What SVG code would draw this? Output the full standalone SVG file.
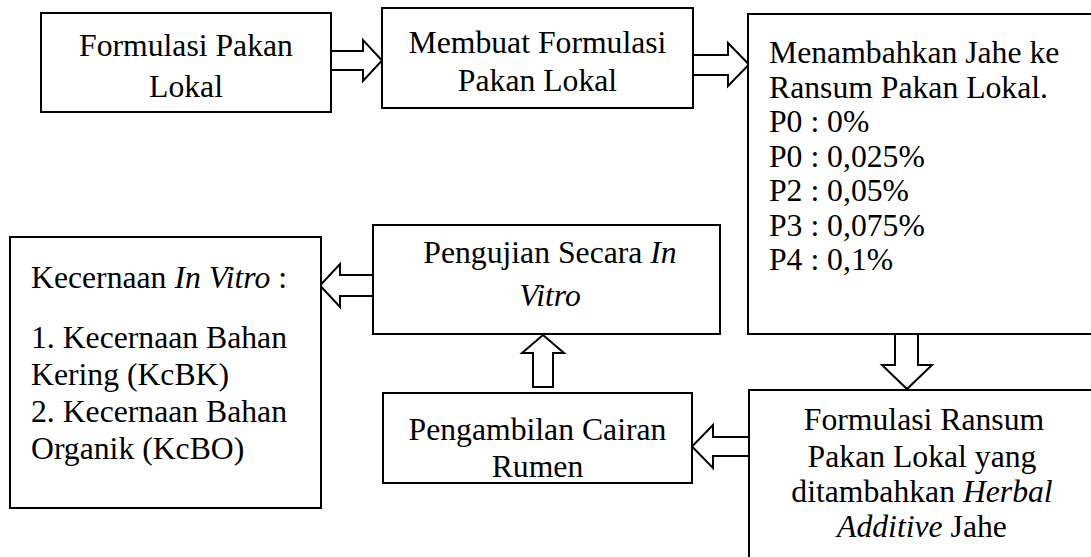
<svg xmlns="http://www.w3.org/2000/svg" width="1091" height="557" viewBox="0 0 1091 557">
<style>
.box{fill:#fff;stroke:#000;stroke-width:2}
.arr{fill:#fff;stroke:#000;stroke-width:2;stroke-linejoin:miter}
text{font-family:"Liberation Serif","Times New Roman",serif;font-size:31.7px;fill:#000}
.c{text-anchor:middle}
</style>
<rect width="1091" height="557" fill="#fff"/>
<g id="connectors">
<polygon class="arr" points="331,51 363,51 363,40 382,60.5 363,81 363,70 331,70"/>
<polygon class="arr" points="693,55 728,55 728,43 749,64.5 728,86 728,75 693,75"/>
<polygon class="arr" points="895,334 895,365 882,365 907,389 932,365 918,365 918,334"/>
<polygon class="arr" points="749,437 713,437 713,425 692,446.5 713,468 713,456 749,456"/>
<polygon class="arr" points="533,387 533,353 522,353 543,335 564,353 553,353 553,387"/>
<polygon class="arr" points="373,275 340,275 340,264 320,285.5 340,307 340,296 373,296"/>
</g>
<g id="node1">
<rect class="box" x="41" y="13" width="290" height="99"/>
<text class="c" x="186" y="56">Formulasi Pakan</text>
<text class="c" x="186" y="97">Lokal</text>
</g>
<g id="node2">
<rect class="box" x="382" y="8" width="311" height="100"/>
<text class="c" x="537.5" y="53">Membuat Formulasi</text>
<text class="c" x="537.5" y="91">Pakan Lokal</text>
</g>
<g id="node3">
<rect class="box" x="748" y="14" width="360" height="320"/>
<text x="769" y="63">Menambahkan Jahe ke</text>
<text x="769" y="97.5">Ransum Pakan Lokal.</text>
<text x="769" y="132">P0 : 0%</text>
<text x="769" y="166.5">P0 : 0,025%</text>
<text x="769" y="201">P2 : 0,05%</text>
<text x="769" y="235.5">P3 : 0,075%</text>
<text x="769" y="270">P4 : 0,1%</text>
</g>
<g id="node4">
<rect class="box" x="383" y="393" width="309" height="90"/>
<text class="c" x="537.5" y="440">Pengambilan Cairan</text>
<text class="c" x="537.5" y="477">Rumen</text>
</g>
<g id="node5">
<rect class="box" x="373" y="225" width="347" height="109"/>
<text class="c" x="550" y="263">Pengujian Secara <tspan font-style="italic">In</tspan></text>
<text class="c" x="550" y="306" font-style="italic">Vitro</text>
</g>
<g id="node6">
<rect class="box" x="10" y="237" width="311" height="271"/>
<text x="31" y="288">Kecernaan <tspan font-style="italic">In Vitro</tspan> :</text>
<text x="31" y="348">1. Kecernaan Bahan</text>
<text x="31" y="385">Kering (KcBK)</text>
<text x="31" y="422">2. Kecernaan Bahan</text>
<text x="31" y="459">Organik (KcBO)</text>
</g>
<g id="node7">
<rect class="box" x="749" y="390" width="360" height="200"/>
<text class="c" x="924" y="430">Formulasi Ransum</text>
<text class="c" x="922" y="467">Pakan Lokal yang</text>
<text class="c" x="922" y="502">ditambahkan <tspan font-style="italic">Herbal</tspan></text>
<text class="c" x="922" y="537"><tspan font-style="italic">Additive</tspan> Jahe</text>
</g>
</svg>
